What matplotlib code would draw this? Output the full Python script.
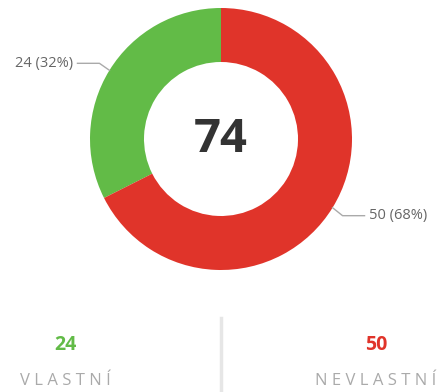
import numpy as np
import matplotlib.pyplot as plt

labels = ["VLASTNÍ", "NEVLASTNÍ"]
values = [24, 50]
colors = ["#62bb47", "#e0342a"]

W, H = 439, 392
fig = plt.figure(figsize=(W / 100, H / 100), dpi=100)
ax = fig.add_axes([0, 0, 1, 1])

# donut, pixel-like coordinates (y measured upwards)
cx, cy, r = 221, 253, 131
wedges, _ = ax.pie(values, colors=colors, startangle=90, counterclock=True,
                   center=(cx, cy), radius=r,
                   wedgeprops=dict(width=r - 77, linewidth=0))
ax.set_xlim(0, W)
ax.set_ylim(0, H)
ax.set_aspect("equal")
ax.axis("off")

total = sum(values)
ax.text(cx, cy, str(total), ha="center", va="center", fontsize=34,
        fontweight="bold", color="#333333", family="Open Sans")

# outside labels with leader lines
for w, v in zip(wedges, values):
    mid = np.deg2rad((w.theta1 + w.theta2) / 2)
    x0, y0 = cx + r * np.cos(mid), cy + r * np.sin(mid)
    side = 1 if np.cos(mid) > 0 else -1
    x1, y1 = x0 + side * 10, y0 - 8 if side > 0 else y0 + 7
    x2 = x1 + side * 22
    ax.plot([x0, x1, x2], [y0, y1, y1], color="#aaaaaa", lw=1)
    ax.text(x2 + side * 4, y1, f"{v} ({v / total:.0%})",
            ha="left" if side > 0 else "right", va="center",
            fontsize=10.5, color="#666666", family="Open Sans")

# summary row below the chart
ax.plot([221, 221], [0, 74], color="#e6e6e6", lw=2.5)
for xc, lab, v, c in zip([65, 376], labels, values, colors):
    ax.text(xc, 47, str(v), ha="center", va="center", fontsize=14,
            fontweight="bold", color=c, family="Open Sans")
    ax.text(xc, 11, " ".join(lab), ha="center", va="center", fontsize=12,
            color="#aaaaaa", family="Open Sans")

fig.savefig("out.png", dpi=100)
